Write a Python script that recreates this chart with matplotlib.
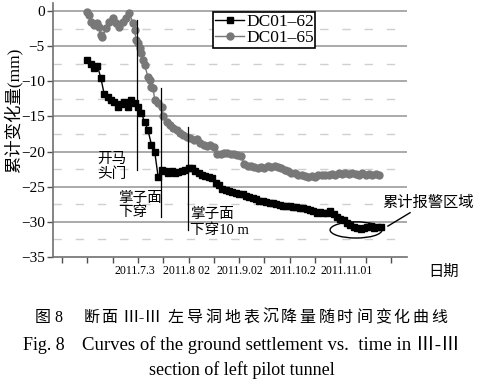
import matplotlib
matplotlib.use("Agg")
import matplotlib.pyplot as plt
from matplotlib.patches import Ellipse

SERIF_CJK = ['Liberation Serif', 'Noto Sans CJK SC']

# ---------------- data ----------------
# x is day offset from the first axis tick (ticks every 15 days)
days_62 = [15, 17, 19, 21, 23, 25, 27, 29, 31, 33, 35, 37, 39, 41, 43, 45, 47, 49,
           51, 53, 55, 57, 59, 61, 63, 65, 67, 69, 71, 73, 75, 77, 79, 81, 83, 85,
           87, 89, 91, 93, 95, 97, 99, 101, 103, 105, 107, 109, 111, 113, 115, 117,
           119, 121, 123, 125, 127, 129, 131, 133, 135, 137, 139, 141, 143, 145,
           147, 149, 151, 153, 155, 157, 159, 161, 163, 165, 167, 169, 171, 173,
           175, 177, 179, 181, 183, 185, 187, 189]
dc01_62 = [-7.0, -7.6, -8.1, -7.8, -9.5, -11.8, -12.3, -12.6, -13.0, -13.7, -13.3,
           -13.0, -13.6, -12.7, -13.1, -13.7, -14.5, -15.8, -17.0, -19.0, -20.1,
           -23.6, -22.6, -22.7, -23.0, -22.8, -23.0, -22.9, -22.8, -22.6, -22.4,
           -22.3, -22.8, -23.1, -23.3, -23.5, -23.6, -23.8, -24.4, -24.8, -25.3,
           -25.5, -25.6, -25.8, -25.9, -26.0, -26.1, -26.3, -26.4, -26.6, -26.8,
           -27.0, -27.1, -27.2, -27.3, -27.3, -27.5, -27.6, -27.7, -27.8, -27.8,
           -27.9, -27.9, -28.0, -28.0, -28.1, -28.3, -28.5, -28.7, -28.6, -28.8,
           -28.7, -28.5, -28.9, -29.3, -29.6, -29.8, -30.2, -30.5, -30.8, -30.9,
           -31.0, -30.9, -30.8, -30.6, -30.9, -30.7, -30.8]

days_65 = [15, 16, 17, 19, 21, 22, 23, 24, 26, 28, 30, 32, 34, 36, 38, 40, 42, 43,
           44, 45, 46, 47, 48, 49, 51, 52, 53, 54, 55, 57, 59, 60, 62, 64, 66, 68,
           70, 72, 74, 76, 78, 80, 82, 84, 86, 88, 90, 92, 94, 96, 98, 100, 102,
           104, 106, 108, 110, 112, 114, 116, 118, 120, 122, 124, 126, 128, 130,
           132, 134, 136, 138, 140, 142, 144, 146, 148, 150, 152, 154, 156, 158,
           160, 162, 164, 166, 168, 170, 172, 174, 176, 178, 180, 182, 184, 186,
           188]
dc01_65 = [-0.1, -0.6, -1.6, -2.0, -1.7, -2.3, -3.4, -3.7, -2.4, -1.6, -1.0, -1.7,
           -2.3, -1.6, -1.0, -0.3, -1.7, -2.7, -4.1, -4.6, -5.3, -6.0, -7.0, -7.7,
           -9.4, -9.8, -10.8, -11.0, -12.7, -13.1, -13.6, -15.0, -15.8, -16.2,
           -16.6, -17.0, -17.4, -17.7, -17.9, -18.1, -18.4, -18.2, -18.8, -19.0,
           -19.2, -19.0, -19.3, -20.4, -20.3, -20.2, -20.2, -20.3, -20.4, -20.5,
           -20.6, -21.8, -22.0, -22.1, -22.2, -22.3, -22.2, -22.3, -22.1, -22.2,
           -22.0, -22.2, -22.3, -22.6, -22.8, -23.0, -23.1, -23.3, -23.4, -23.5,
           -23.6, -23.5, -23.6, -23.4, -23.3, -23.3, -23.4, -23.2, -23.3, -23.1,
           -23.2, -23.0, -23.2, -23.0, -23.2, -23.3, -23.1, -23.3, -23.2, -23.3,
           -23.2, -23.4]

tick_mark_days = list(range(0, 196, 15))
label_days = [43, 74, 105.5, 137, 169]
tick_labels = ['2011.7.3', '2011.8 02', '2011.9.02', '2011.10.2', '2011.11.01']
y_ticks = [0, -5, -10, -15, -20, -25, -30, -35]

# event markers: (day, top value, bottom value)
event_days = [44.5, 58.7, 74.7]
event_tops = [-1.3, -11.0, -16.5]
event_bottoms = [-22.6, -29.3, -31.2]

# ---------------- figure ----------------
W, H = 479, 392
fig = plt.figure(figsize=(W / 100, H / 100), dpi=100)
ax = fig.add_axes([53 / W, 1 - 257 / H, 354 / W, 254 / H])

ax.set_xlim(-5.33, 204.5)
ax.set_ylim(-35, 1.14)

# grid
for v in y_ticks[:-1]:
    ax.axhline(v, color='#9c9c9c', lw=1.2, zorder=1)
for v in [-2.5, -7.5, -12.5, -17.5, -22.5, -27.5, -32.5]:
    ax.axhline(v, color='#cfcfcf', lw=1.0, ls=(0, (6, 10)), zorder=1)

# event vertical lines
for d, t, b in zip(event_days, event_tops, event_bottoms):
    ax.plot([d, d], [t, b], color='black', lw=0.9, zorder=4)

l1, = ax.plot(days_62, dc01_62, color='black', marker='s', ms=5.0, lw=1.0,
              label='DC01\u201362', zorder=3)
l2, = ax.plot(days_65, dc01_65, color='#787878', marker='o', ms=5.0, lw=1.0,
              label='DC01\u201365', zorder=3)

for s in ['top', 'right']:
    ax.spines[s].set_visible(False)
for s in ['left', 'bottom']:
    ax.spines[s].set_color('#707070')
    ax.spines[s].set_linewidth(1.2)

ax.set_xticks(label_days)
ax.set_xticklabels(tick_labels, fontsize=8.5, family=SERIF_CJK)
ax.set_xticks(tick_mark_days, minor=True)
ax.tick_params(axis='x', which='major', length=0, pad=6)
ax.tick_params(axis='x', which='minor', direction='out', length=4, width=1,
               color='#505050')
ax.set_yticks(y_ticks)
ax.set_yticklabels(['0', '\u22125', '\u221210', '\u221215', '\u221220', '\u221225',
                    '\u221230', '\u221235'], fontsize=11, family=SERIF_CJK)
ax.tick_params(axis='y', direction='out', length=4, width=1, color='#505050', pad=2)

leg = ax.legend(handles=[l1, l2], loc='upper left', bbox_to_anchor=(0.452, 0.963),
                prop={'family': 'Liberation Serif', 'size': 12.5}, frameon=True,
                fancybox=False, edgecolor='black', framealpha=1, borderpad=0.1,
                labelspacing=0.0, handlelength=1.7, handletextpad=0.1,
                borderaxespad=0)
leg.get_frame().set_linewidth(1.2)

# annotations
ax.text(20.8, -20.2, '开马\n头门', fontsize=10.5, family=SERIF_CJK, va='top',
        ha='left', linespacing=1.1)
ax.text(33.2, -25.7, '掌子面\n下穿', fontsize=10.5, family=SERIF_CJK, va='top',
        ha='left', linespacing=1.1)
ax.text(75.9, -28.0, '掌子面\n下穿10 m', fontsize=10.5, family=SERIF_CJK, va='top',
        ha='left', linespacing=1.25)

ax.add_patch(Ellipse((174.3, -31.15), 30.8, 2.3, fill=False, ec='black', lw=1.0,
                     zorder=5))
ax.plot([193.2, 206.3], [-30.6, -28.7], color='black', lw=1.0, clip_on=False)
ax.text(189.7, -27.3, '累计报警区域', fontsize=11, family=SERIF_CJK, va='center',
        ha='left', clip_on=False)

# axis titles
fig.text(13 / W, 1 - 110 / H, '累计变化量(mm)', rotation=90, fontsize=12.5,
         family=SERIF_CJK, ha='center', va='center')
fig.text(444 / W, 1 - 272 / H, '日期', fontsize=11, family=SERIF_CJK,
         ha='center', va='center')

# captions
fig.text(35 / W, 1 - 318 / H, '图 8', fontsize=11.5, family=SERIF_CJK,
         ha='left', va='center')
fig.text(84 / W, 1 - 318 / H, '断', fontsize=11.5, family=SERIF_CJK, ha='left',
         va='center')
fig.text(101 / W, 1 - 318 / H, '面', fontsize=11.5, family=SERIF_CJK, ha='left',
         va='center')
fig.text(142 / W, 1 - 318 / H, 'Ⅲ-Ⅲ', fontsize=12, family=SERIF_CJK, ha='center',
         va='center')
tail = '左导洞地表沉降量随时间变化曲线'
for i, ch in enumerate(tail):
    fig.text((168 + i * 18.8) / W, 1 - 318 / H, ch, fontsize=11.5, family=SERIF_CJK,
             ha='left', va='center')
fig.text(23 / W, 1 - 345 / H, 'Fig. 8', fontsize=13, family=SERIF_CJK,
         ha='left', va='center')
fig.text(460 / W, 1 - 345 / H, 'Curves of the ground settlement vs.  time in Ⅲ-Ⅲ',
         fontsize=13.5, family=SERIF_CJK, ha='right', va='center')
fig.text(242 / W, 1 - 370 / H, 'section of left pilot tunnel', fontsize=13,
         family=SERIF_CJK, ha='center', va='center')

fig.savefig('out.png', dpi=100)
